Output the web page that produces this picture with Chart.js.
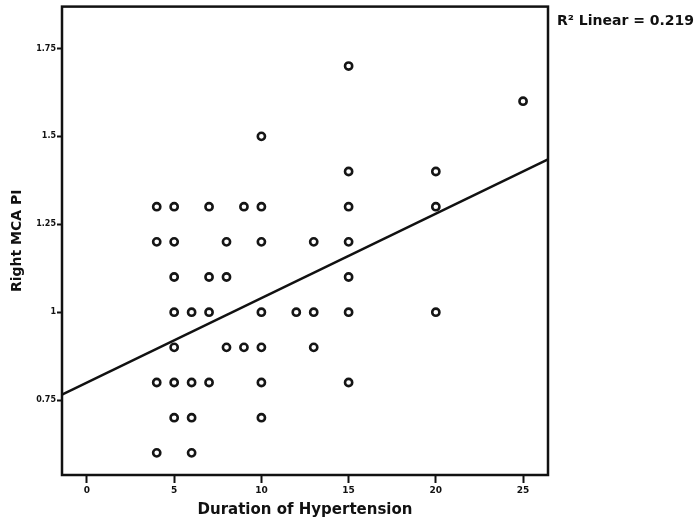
<!DOCTYPE html>
<html>
<head>
<meta charset="utf-8">
<script src="https://cdn.jsdelivr.net/npm/chart.js@4.4.1/dist/chart.umd.min.js"></script>
<style>
  html, body { margin: 0; padding: 0; background: #ffffff; }
  #wrap { width: 699px; height: 524px; position: relative; }
</style>
</head>
<body>
<div id="wrap"><canvas id="c" width="699" height="524"></canvas></div>
<script>
// Data
const durationYears = [
  15,
  25,
  10,
  15, 20,
  4, 5, 7, 9, 10, 15, 20,
  4, 5, 8, 10, 13, 15,
  5, 7, 8, 15,
  5, 6, 7, 10, 12, 13, 15, 20,
  5, 8, 9, 10, 13,
  4, 5, 6, 7, 10, 15,
  5, 6, 10,
  4, 6
];
const rightMcaPi = [
  1.7,
  1.6,
  1.5,
  1.4, 1.4,
  1.3, 1.3, 1.3, 1.3, 1.3, 1.3, 1.3,
  1.2, 1.2, 1.2, 1.2, 1.2, 1.2,
  1.1, 1.1, 1.1, 1.1,
  1.0, 1.0, 1.0, 1.0, 1.0, 1.0, 1.0, 1.0,
  0.9, 0.9, 0.9, 0.9, 0.9,
  0.8, 0.8, 0.8, 0.8, 0.8, 0.8,
  0.7, 0.7, 0.7,
  0.6, 0.6
];
const xTickValues = [0, 5, 10, 15, 20, 25];
const yTickValues = [0.75, 1, 1.25, 1.5, 1.75];
const xRange = [-1.43, 26.43];
const yRange = [0.537, 1.869];
const fitIntercept = 0.80;
const fitSlope = 0.024;
const rSquaredLabel = 'R\u00B2 Linear = 0.219';
const xTitle = 'Duration of Hypertension';
const yTitle = 'Right MCA PI';

const points = durationYears.map((x, i) => ({ x: x, y: rightMcaPi[i] }));
const fitLine = xRange.map(x => ({ x: x, y: fitIntercept + fitSlope * x }));

const FONT = "'DejaVu Sans', 'Liberation Sans', Arial, sans-serif";

const framePlugin = {
  id: 'frame',
  afterDraw(chart) {
    const { ctx, chartArea: a } = chart;
    ctx.save();
    ctx.strokeStyle = '#111';
    ctx.lineWidth = 2.5;
    ctx.strokeRect(a.left, a.top, a.right - a.left, a.bottom - a.top);
    ctx.fillStyle = '#111';
    ctx.font = 'bold 14px ' + FONT;
    ctx.textAlign = 'left';
    ctx.textBaseline = 'middle';
    ctx.fillText(rSquaredLabel, a.right + 9, 21);
    ctx.restore();
  }
};

new Chart(document.getElementById('c'), {
  type: 'scatter',
  data: {
    datasets: [
      {
        type: 'line',
        data: fitLine,
        borderColor: '#111',
        borderWidth: 2.5,
        pointRadius: 0,
        fill: false,
        clip: 0,
        order: 2
      },
      {
        data: points,
        pointStyle: 'circle',
        pointRadius: 3.6,
        pointBorderWidth: 2.6,
        pointBorderColor: '#151515',
        pointBackgroundColor: 'rgba(255,255,255,0)',
        borderColor: '#151515',
        backgroundColor: 'rgba(255,255,255,0)',
        showLine: false,
        order: 1
      }
    ]
  },
  options: {
    responsive: false,
    animation: false,
    devicePixelRatio: 1,
    layout: { padding: { left: 0, top: 6, right: 151, bottom: 0 } },
    plugins: {
      legend: { display: false },
      tooltip: { enabled: false }
    },
    scales: {
      x: {
        type: 'linear',
        min: xRange[0],
        max: xRange[1],
        afterBuildTicks(scale) { scale.ticks = xTickValues.map(v => ({ value: v })); },
        afterFit(scale) { scale.height = 49; },
        grid: { display: true, drawOnChartArea: false, tickLength: 8, tickWidth: 2, tickColor: '#111' },
        border: { display: false },
        ticks: {
          color: '#111',
          font: { family: FONT, size: 9, weight: 'bold' },
          padding: 2,
          maxRotation: 0,
          callback: v => String(v)
        },
        title: {
          display: true,
          text: xTitle,
          color: '#111',
          font: { family: FONT, size: 15, weight: 'bold' },
          padding: { top: 0, bottom: 5 }
        }
      },
      y: {
        type: 'linear',
        min: yRange[0],
        max: yRange[1],
        afterBuildTicks(scale) { scale.ticks = yTickValues.map(v => ({ value: v })); },
        afterFit(scale) { scale.width = 62; },
        grid: { display: true, drawOnChartArea: false, tickLength: 5, tickWidth: 2, tickColor: '#111' },
        border: { display: false },
        ticks: {
          color: '#111',
          font: { family: FONT, size: 8, weight: 'bold' },
          padding: 1,
          callback: v => String(v)
        },
        title: {
          display: true,
          text: yTitle,
          color: '#111',
          font: { family: FONT, size: 14, weight: 'bold' },
          padding: { top: 9, bottom: 0 }
        }
      }
    }
  },
  plugins: [framePlugin]
});
</script>
</body>
</html>
